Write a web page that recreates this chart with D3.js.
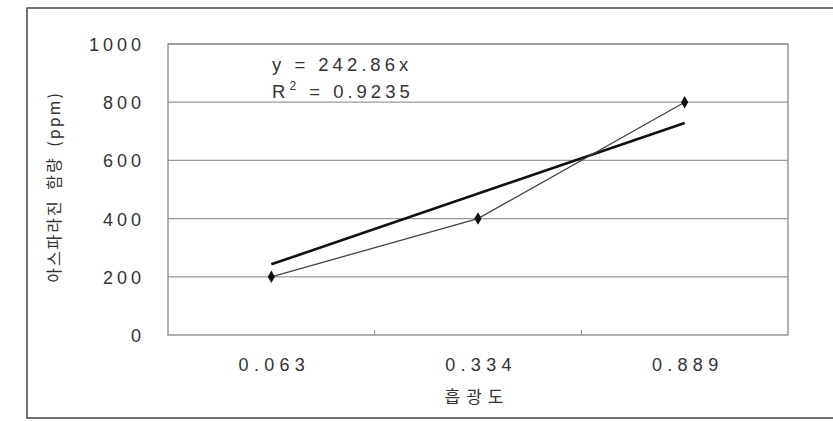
<!DOCTYPE html>
<html><head><meta charset="utf-8">
<script src="https://cdn.jsdelivr.net/npm/d3@7"></script>
<style>body{margin:0;background:#fff}svg{display:block}text{font-family:"Liberation Sans",Arial,sans-serif;fill:#333}</style>
</head><body><svg id="c" width="833" height="421"></svg>
<script>
const categories = ["0.063","0.334","0.889"];
const values = [200, 400, 800];
const yTicks = [0,200,400,600,800,1000];
const slope = 242.86;
const eqLines = ["y = 242.86x", "R2 = 0.9235"];
const xTitle = "흡광도";
const yTitle = "아스파라진 함량 (ppm)";

const svg = d3.select("#c");
const L=168, R=788, T=44, B=335;
svg.append("rect").attr("x",27).attr("y",8).attr("width",830).attr("height",410)
  .attr("fill","none").attr("stroke","#444").attr("stroke-width",1.5);

const x = d3.scaleBand().domain(categories).range([L,R]);
const y = d3.scaleLinear().domain([0,1000]).range([B,T]);

// gridlines
svg.append("g").selectAll("line").data(yTicks.filter(d=>d>0)).join("line")
  .attr("x1",L).attr("x2",R).attr("y1",d=>y(d)).attr("y2",d=>y(d))
  .attr("stroke","#999").attr("stroke-width",1.2);
// plot border
svg.append("rect").attr("x",L).attr("y",T).attr("width",R-L).attr("height",B-T)
  .attr("fill","none").attr("stroke","#888").attr("stroke-width",1.3);

// y axis labels
const ya = svg.append("g").attr("transform",`translate(${L},0)`)
  .call(d3.axisLeft(y).tickValues(yTicks).tickFormat(d3.format("d")).tickSize(0).tickPadding(27));
ya.select(".domain").remove();
ya.selectAll("text").style("font-size","18px").style("letter-spacing","4px")
  .attr("fill","#333").attr("dx","4px").attr("dy","0.36em");

// x axis
const xa = svg.append("g").attr("transform",`translate(0,${B})`)
  .call(d3.axisBottom(x).tickSize(0).tickPadding(23));
xa.select(".domain").remove();
xa.selectAll("text").style("font-size","18px").style("letter-spacing","5.3px").attr("fill","#333").attr("dx","3px");
// category boundary ticks
svg.append("g").selectAll("line").data(categories.slice(1)).join("line")
  .attr("x1",d=>x(d)).attr("x2",d=>x(d)).attr("y1",B).attr("y2",B-5)
  .attr("stroke","#888").attr("stroke-width",1);

const cx = d => x(d)+x.bandwidth()/2;

// trend line
svg.append("line").attr("x1",cx(categories[0])).attr("y1",y(slope*1))
  .attr("x2",cx(categories[2])).attr("y2",y(slope*3))
  .attr("stroke","#111").attr("stroke-width",2.6);

// data line
svg.append("path").datum(values)
  .attr("d",d3.line().x((d,i)=>cx(categories[i])).y(d=>y(d)))
  .attr("fill","none").attr("stroke","#444").attr("stroke-width",1.3);
svg.append("g").selectAll("path").data(values).join("path")
  .attr("transform",(d,i)=>`translate(${cx(categories[i])},${y(d)})`)
  .attr("d",d3.symbol(d3.symbolDiamond,45)).attr("fill","#111");

// equation
const eq = svg.append("text").attr("x",272).attr("y",71).style("font-size","18.5px").style("letter-spacing","4px");
eq.text(eqLines[0]);
const r2 = svg.append("text").attr("x",272).attr("y",98).style("font-size","18.5px").style("letter-spacing","4px");
r2.append("tspan").text("R");
r2.append("tspan").attr("dy",-8).style("font-size","12px").text("2");
r2.append("tspan").attr("dy",8).text(" = 0.9235");

// titles
svg.append("text").attr("x",477).attr("y",403).attr("text-anchor","middle")
  .style("font-family","'Noto Sans CJK KR',sans-serif").style("font-size","17px").style("letter-spacing","6px")
  .text(xTitle);
svg.append("text").attr("transform","translate(60,187) rotate(-90)").attr("text-anchor","middle")
  .style("font-family","'Noto Sans CJK KR',sans-serif").style("font-size","16px")
  .style("letter-spacing","2px").style("word-spacing","4px")
  .text(yTitle);
</script></body></html>
